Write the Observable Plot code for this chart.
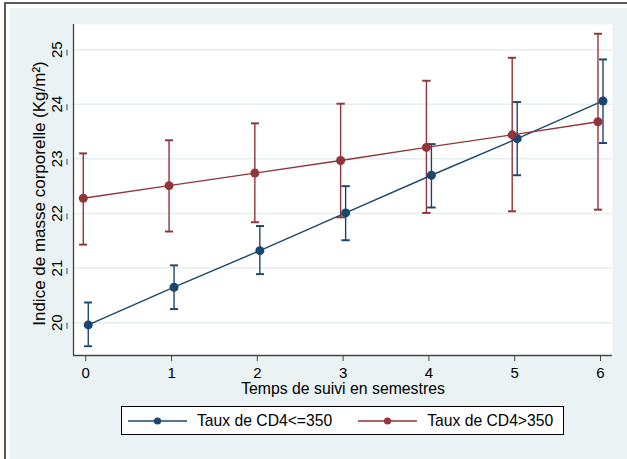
<!DOCTYPE html>
<html>
<head>
<meta charset="utf-8">
<script src="https://cdn.jsdelivr.net/npm/d3@7"></script>
<script src="https://cdn.jsdelivr.net/npm/@observablehq/plot@0.6"></script>
<style>
  html, body { margin: 0; padding: 0; background: white; }
  #page { position: relative; width: 627px; height: 459px; overflow: hidden; font-family: "Liberation Sans", Arial, Helvetica, sans-serif; }
  #outer { position: absolute; left: 4px; top: 2px; right: -20px; bottom: -20px; border-left: 2px solid #5a5a5a; border-top: 2px solid #5a5a5a; background: white; }
  #inner { position: absolute; left: 10px; top: 8px; right: 0; bottom: 0; background: #eaf2f3; }
  #chart { position: absolute; left: 0; top: 0; }
  #legend { margin-top: 6px; margin-left: 121px; width: 441px; height: 27px; border: 1px solid #000; background: white; display: flex; align-items: center; font-size: 15.7px; color: #000; box-sizing: content-box; }
  .item { display: flex; align-items: center; }
  .item span { white-space: nowrap; }
</style>
</head>
<body>
<div id="page">
  <div id="outer"></div>
  <div id="inner"></div>
  <div id="chart"></div>
</div>
<script>
// Data
const semestres = [0, 1, 2, 3, 4, 5, 6];
const seriesNames = ["Taux de CD4<=350", "Taux de CD4>350"];
const seriesColors = ["#1a476f", "#90353b"];
const bmiLow   = [19.96, 20.65, 21.32, 22.01, 22.70, 23.37, 24.06];
const bmiLowLo = [19.57, 20.25, 20.89, 21.51, 22.11, 22.70, 23.29];
const bmiLowHi = [20.37, 21.05, 21.77, 22.50, 23.27, 24.04, 24.82];
const bmiHigh   = [22.28, 22.51, 22.74, 22.97, 23.21, 23.44, 23.68];
const bmiHighLo = [21.43, 21.67, 21.84, 21.93, 22.01, 22.04, 22.07];
const bmiHighHi = [23.10, 23.34, 23.65, 24.01, 24.43, 24.85, 25.29];
const xTicks = [0, 1, 2, 3, 4, 5, 6];
const yTicks = [20, 21, 22, 23, 24, 25];
const xLabel = "Temps de suivi en semestres";
const yLabel = "Indice de masse corporelle (Kg/m²)";

const xDomain = [-0.143, 6.14];
const yDomain = [19.40, 25.46];

const low = semestres.map((s, i) => ({x: s, y: bmiLow[i], lo: bmiLowLo[i], hi: bmiLowHi[i]}));
const high = semestres.map((s, i) => ({x: s, y: bmiHigh[i], lo: bmiHighLo[i], hi: bmiHighHi[i]}));

const axisColor = "#444";
const font = "'Liberation Sans', Arial, Helvetica, sans-serif";

function errorBars(data, color, dx) {
  return Plot.link(data, {x1: "x", x2: "x", y1: "lo", y2: "hi", stroke: color, strokeWidth: 1.4, markerStart: "tick", markerEnd: "tick", dx});
}
function series(data, color, dx) {
  return [
    Plot.line(data, {x: "x", y: "y", stroke: color, strokeWidth: 1.4, dx}),
    Plot.dot(data, {x: "x", y: "y", fill: color, r: 4.5, dx})
  ];
}

const chart = Plot.plot({
  width: 627,
  height: 400,
  marginLeft: 73,
  marginRight: 15,
  marginTop: 24,
  marginBottom: 45,
  style: {background: "transparent", fontFamily: font, fontSize: "15px", color: "#000", overflow: "visible"},
  x: {domain: xDomain},
  y: {domain: yDomain},
  marks: [
    Plot.frame({fill: "white", stroke: "none"}),
    Plot.gridY(yTicks, {stroke: "#e6eef0", strokeOpacity: 1, strokeWidth: 1.5}),
    Plot.ruleX([xDomain[0]], {stroke: axisColor, strokeWidth: 1.3}),
    Plot.ruleY([yDomain[0]], {stroke: axisColor, strokeWidth: 1.3}),
    Plot.axisX(xTicks, {tickSize: 6, tickPadding: 6, stroke: axisColor, fill: "#000", label: null, fontSize: 15, tickFormat: d3.format("d")}),
    Plot.axisY(yTicks, {tickSize: 6, tickPadding: 0, stroke: axisColor, fill: "#000", label: null, rotate: -90, textAnchor: "middle", lineAnchor: "bottom", fontSize: 15, dx: -6, tickFormat: d3.format("d")}),
    Plot.text([yLabel], {frameAnchor: "left", rotate: -90, dx: -34, dy: 3.5, textAnchor: "middle", lineAnchor: "middle", fontSize: 17, fill: "#000"}),
    Plot.text([xLabel], {frameAnchor: "bottom", dy: 27, textAnchor: "middle", lineAnchor: "top", fontSize: 15.8, fill: "#000"}),
    errorBars(low, seriesColors[0], 2.5),
    errorBars(high, seriesColors[1], -2.5),
    ...series(low, seriesColors[0], 2.5),
    ...series(high, seriesColors[1], -2.5)
  ]
});

const container = document.getElementById("chart");
container.appendChild(chart);

// Legend below the SVG
const legend = document.createElement("div");
legend.id = "legend";
const gaps = [[6, 10], [26, 10]];
seriesNames.forEach((name, i) => {
  const item = document.createElement("div");
  item.className = "item";
  item.style.marginLeft = gaps[i][0] + "px";
  const sw = d3.create("svg").attr("width", 59).attr("height", 12).style("display", "block");
  sw.append("line").attr("x1", 0).attr("x2", 59).attr("y1", 6).attr("y2", 6).attr("stroke", seriesColors[i]).attr("stroke-width", 1.4);
  sw.append("circle").attr("cx", 29.5).attr("cy", 6).attr("r", 3.6).attr("fill", seriesColors[i]);
  item.appendChild(sw.node());
  const label = document.createElement("span");
  label.textContent = name;
  label.style.marginLeft = gaps[i][1] + "px";
  item.appendChild(label);
  legend.appendChild(item);
});
container.appendChild(legend);
</script>
</body>
</html>
